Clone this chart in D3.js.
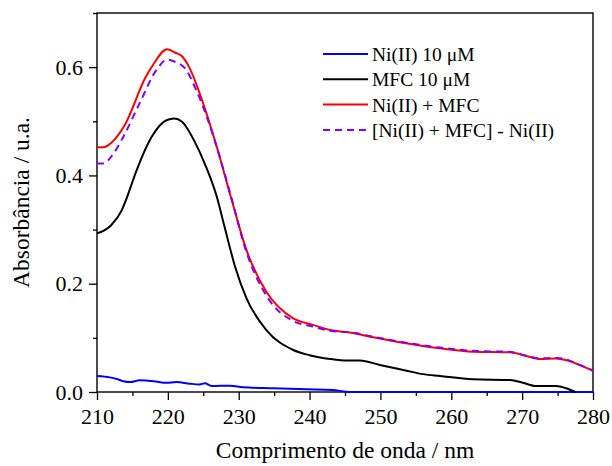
<!DOCTYPE html>
<html><head><meta charset="utf-8">
<script src="https://cdn.jsdelivr.net/npm/d3@7"></script>
<style>body{margin:0;background:#fff}svg{display:block}</style>
</head><body><svg id="c" width="612" height="466"></svg>
<script>
const xTicks = [210,220,230,240,250,260,270,280];
const yTicks = [0.0,0.2,0.4,0.6];
const seriesNames = ["Ni(II) 10 \u03bcM","MFC 10 \u03bcM","Ni(II) + MFC","[Ni(II) + MFC] - Ni(II)"];
const seriesColors = ["#0000ff","#000000","#ff0000","#8000ff"];

const niX = [210,211.8,212.8,213.7,214.7,216,218,219.8,221.2,223.1,224.5,225.2,226.2,228.8,230.6,234.9,239.6,243.3,245.2,246,250,260,270,280];
const niY = [0.0295,0.027,0.024,0.020,0.0185,0.0215,0.020,0.017,0.0185,0.0154,0.014,0.016,0.011,0.0117,0.0086,0.0068,0.005,0.0037,0.0005,0,0,0,0,0];

const mfcX = [210,212,213.5,214.1,215.6,217.7,219.8,220.9,222,223.8,225.2,226.9,228,229.5,231.1,233.9,237.7,240,242.9,245.4,247.1,249.9,253.7,256,258.4,263.1,268.3,270.1,272,274.8,276.2,277.5];
const mfcY = [0.293,0.308,0.336,0.355,0.41,0.471,0.502,0.505,0.499,0.462,0.422,0.361,0.305,0.231,0.173,0.1145,0.0776,0.068,0.061,0.058,0.058,0.05,0.0394,0.033,0.0295,0.0234,0.022,0.017,0.011,0.011,0.0068,0.0];

const mixX = [210,210.9,212,214,216.8,217.9,219.9,221,222,223,224.8,226.9,229,231.1,233.9,237.7,240.5,242.9,245.9,249,252.7,258.4,263.1,268.3,270.6,272.5,274.8,276.7,278.1,280];
const mixY = [0.452,0.452,0.46,0.495,0.58,0.604,0.633,0.627,0.62,0.6,0.54,0.453,0.355,0.262,0.185,0.136,0.124,0.1145,0.1095,0.101,0.092,0.0807,0.0745,0.0733,0.0665,0.061,0.062,0.057,0.05,0.039];

const diffX = [210,210.9,212.3,213.7,216,218.4,219.9,221,222.4,224,225.5,227.6,228.8,231.1,233.9,237.7,240.5,242.9,245.9,249,252.7,258.4,263.1,268.3,270.6,272.5,274.8,276.7,278.1,280];
const diffY = [0.422,0.422,0.44,0.471,0.533,0.595,0.614,0.61,0.598,0.558,0.508,0.422,0.367,0.258,0.178,0.131,0.121,0.113,0.11,0.102,0.093,0.082,0.076,0.074,0.067,0.062,0.063,0.058,0.05,0.04];

const series = [[niX,niY],[mfcX,mfcY],[mixX,mixY],[diffX,diffY]];

const FONT = "Liberation Serif";
const L=97, R=593, T=13, B=392;
const svg = d3.select("#c");
const x = d3.scaleLinear().domain([210,280]).range([L,R]);
const y = d3.scaleLinear().domain([0,0.7]).range([B,T]);

svg.append("defs").append("clipPath").attr("id","clip").append("rect")
  .attr("x",L).attr("y",T).attr("width",R-L+1).attr("height",B-T+1.5);

const xa = svg.append("g").attr("transform",`translate(0,${B})`)
  .call(d3.axisBottom(x).tickValues(d3.range(215,281,10)).tickSize(4).tickFormat(""));
xa.select(".domain").remove();
const xb = svg.append("g").attr("transform",`translate(0,${B})`)
  .call(d3.axisBottom(x).tickValues(xTicks).tickSize(8).tickPadding(8).tickFormat(d3.format("d")));
xb.select(".domain").remove();
xb.attr("font-family",FONT).attr("font-size",22);
xb.selectAll("text").attr("font-family",FONT).attr("font-size",22).attr("fill","#000");

const ya = svg.append("g").attr("transform",`translate(${L},0)`)
  .call(d3.axisLeft(y).tickValues([0.1,0.3,0.5,0.7]).tickSize(4).tickFormat(""));
ya.select(".domain").remove();
const yb = svg.append("g").attr("transform",`translate(${L},0)`)
  .call(d3.axisLeft(y).tickValues(yTicks).tickSize(8).tickPadding(6).tickFormat(d3.format(".1f")));
yb.select(".domain").remove();
yb.attr("font-family",FONT).attr("font-size",22);
yb.selectAll("text").attr("font-family",FONT).attr("font-size",22).attr("fill","#000");
svg.selectAll(".tick line").attr("stroke","#000").attr("stroke-width",1.3);

svg.append("rect").attr("x",L).attr("y",T).attr("width",R-L).attr("height",B-T)
  .attr("fill","none").attr("stroke","#000").attr("stroke-width",1.4);

const line = d3.line().x(d=>x(d[0])).y(d=>y(d[1])).curve(d3.curveMonotoneX);
const g = svg.append("g").attr("clip-path","url(#clip)");
series.forEach((s,i)=>{
  const pts = s[0].map((v,j)=>[v,s[1][j]]);
  g.append("path").datum(pts).attr("d",line).attr("fill","none")
    .attr("stroke",seriesColors[i]).attr("stroke-width",2)
    .attr("stroke-dasharray", i===3 ? "7,5" : null)
    .attr("stroke-linejoin","round");
});

const lg = svg.append("g");
seriesNames.forEach((n,i)=>{
  const yy = 54 + i*25.3;
  lg.append("line").attr("x1",323).attr("x2",368).attr("y1",yy).attr("y2",yy)
    .attr("stroke",seriesColors[i]).attr("stroke-width",2)
    .attr("stroke-dasharray", i===3 ? "7,5" : null);
  lg.append("text").attr("x",372).attr("y",yy+7).attr("font-family",FONT).attr("font-size",19.5).text(n);
});

svg.append("text").attr("x",(L+R)/2).attr("y",458).attr("text-anchor","middle")
  .attr("font-family",FONT).attr("font-size",23.5).text("Comprimento de onda / nm");
svg.append("text").attr("transform",`translate(29,${(T+B)/2}) rotate(-90)`).attr("text-anchor","middle")
  .attr("font-family",FONT).attr("font-size",23.5).text("Absorbância / u.a.");
</script></body></html>
